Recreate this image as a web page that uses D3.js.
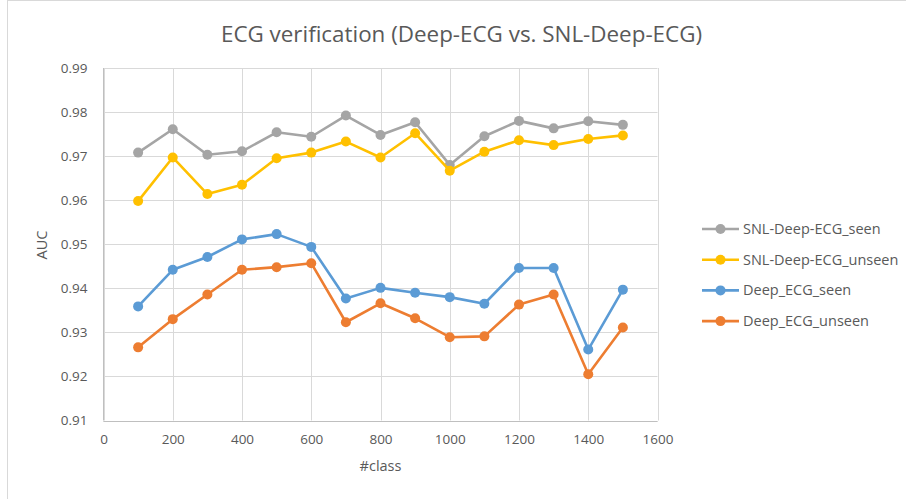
<!DOCTYPE html>
<html><head><meta charset="utf-8">
<script src="https://cdn.jsdelivr.net/npm/d3@7/dist/d3.min.js"></script>
<style>body{margin:0;background:#fff}svg{display:block}text{font-family:"Open Sans","Noto Sans",sans-serif;fill:#595959}</style>
</head><body><svg id="c" width="906" height="499"></svg>
<script>
const classes = [100,200,300,400,500,600,700,800,900,1000,1100,1200,1300,1400,1500];
const snlSeen   = [0.9708,0.9761,0.9703,0.9711,0.9754,0.9744,0.9792,0.9748,0.9777,0.9680,0.9745,0.9780,0.9763,0.9779,0.9771];
const snlUnseen = [0.9598,0.9697,0.9614,0.9635,0.9695,0.9708,0.9733,0.9697,0.9752,0.9667,0.9710,0.9736,0.9725,0.9739,0.9747];
const deepSeen  = [0.9359,0.9442,0.9471,0.9511,0.9523,0.9494,0.9377,0.9401,0.9390,0.9380,0.9365,0.9446,0.9446,0.9261,0.9397];
const deepUnseen= [0.9266,0.9330,0.9386,0.9442,0.9448,0.9457,0.9323,0.9366,0.9332,0.9289,0.9291,0.9363,0.9386,0.9205,0.9311];
const seriesNames = ["SNL-Deep-ECG_seen","SNL-Deep-ECG_unseen","Deep_ECG_seen","Deep_ECG_unseen"];
const seriesColors = ["#A5A5A5","#FFC000","#5B9BD5","#ED7D31"];
const xTicks = [0,200,400,600,800,1000,1200,1400,1600];
const yTicks = [0.91,0.92,0.93,0.94,0.95,0.96,0.97,0.98,0.99];
const title = "ECG verification (Deep-ECG vs. SNL-Deep-ECG)";

const series = [snlSeen,snlUnseen,deepSeen,deepUnseen].map((v,i)=>({name:seriesNames[i],color:seriesColors[i],values:v}));

const svg = d3.select("#c");
// outer border
svg.append("rect").attr("x",7.5).attr("y",0.5).attr("width",1000).attr("height",1000)
  .attr("fill","none").attr("stroke","#d9d9d9");

const L=103.5,R=657.5,T=68,B=420.5;
const x = d3.scaleLinear().domain([0,1600]).range([L,R]);
const y = d3.scaleLinear().domain([0.91,0.99]).range([B,T]);

// gridlines
const g = svg.append("g");
g.selectAll(".vg").data(xTicks).join("line")
  .attr("x1",d=>Math.round(x(d))+0.5).attr("x2",d=>Math.round(x(d))+0.5)
  .attr("y1",T).attr("y2",B).attr("stroke","#d9d9d9").attr("stroke-width",1);
g.selectAll(".hg").data(yTicks).join("line")
  .attr("y1",d=>Math.round(y(d))+0.5).attr("y2",d=>Math.round(y(d))+0.5)
  .attr("x1",L).attr("x2",R).attr("stroke","#d9d9d9").attr("stroke-width",1);
// axis lines
g.append("line").attr("x1",L).attr("x2",L).attr("y1",T).attr("y2",B).attr("stroke","#bfbfbf");
g.append("line").attr("x1",L).attr("x2",R).attr("y1",Math.round(y(0.91))+0.5).attr("y2",Math.round(y(0.91))+0.5).attr("stroke","#bfbfbf");

// tick labels via d3 axes
const yAxis = svg.append("g").attr("transform",`translate(${L},0)`)
  .call(d3.axisLeft(y).tickValues(yTicks).tickFormat(d3.format(".2f")).tickSize(0).tickPadding(16));
yAxis.select(".domain").remove();
yAxis.selectAll("text").attr("font-size",13.5).attr("fill","#595959").style("font-family","'Open Sans',sans-serif");
const xAxis = svg.append("g").attr("transform",`translate(0,${B})`)
  .call(d3.axisBottom(x).tickValues(xTicks).tickFormat(d3.format("d")).tickSize(0).tickPadding(14));
xAxis.select(".domain").remove();
xAxis.selectAll("text").attr("font-size",13.5).attr("fill","#595959").style("font-family","'Open Sans',sans-serif");

// series
const line = d3.line().x((d,i)=>x(classes[i])).y(d=>y(d));
series.forEach(s=>{
  svg.append("path").attr("d",line(s.values)).attr("fill","none").attr("stroke",s.color)
    .attr("stroke-width",2.6).attr("stroke-linejoin","round");
  svg.selectAll(null).data(s.values).join("circle")
    .attr("cx",(d,i)=>x(classes[i])).attr("cy",d=>y(d)).attr("r",5).attr("fill",s.color);
});

// title
svg.append("text").attr("x",461.5).attr("y",42).attr("text-anchor","middle")
  .attr("font-size",22.4).text(title);
// axis titles
svg.append("text").attr("x",380.5).attr("y",471).attr("text-anchor","middle").attr("font-size",14.5).text("#class");
svg.append("text").attr("transform","translate(47,245) rotate(-90)").attr("text-anchor","middle").attr("font-size",14.5).text("AUC");

// legend
const lg = svg.append("g");
series.forEach((s,i)=>{
  const yy = 229 + i*30.7;
  lg.append("line").attr("x1",702).attr("x2",739).attr("y1",yy).attr("y2",yy).attr("stroke",s.color).attr("stroke-width",2.6);
  lg.append("circle").attr("cx",720.5).attr("cy",yy).attr("r",5).attr("fill",s.color);
  lg.append("text").attr("x",743).attr("y",yy+5).attr("font-size",14.5).text(s.name);
});
</script></body></html>
